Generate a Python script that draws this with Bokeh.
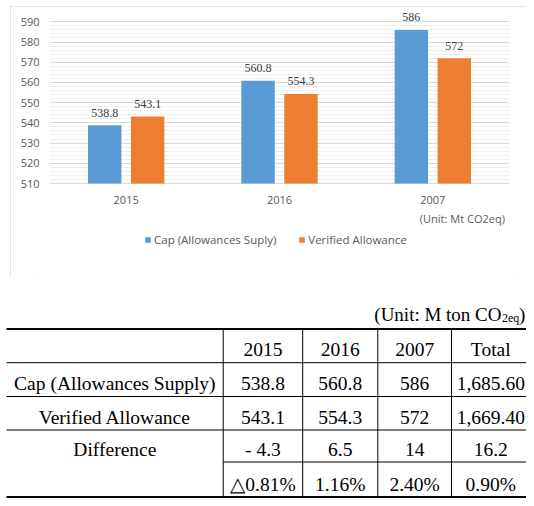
from bokeh.plotting import figure
from bokeh.models import (ColumnDataSource, FactorRange, Range1d, LabelSet, Label,
                          Legend, LegendItem, FixedTicker)
from bokeh.transform import dodge
from bokeh.embed import file_html
from bokeh.resources import INLINE
from bokeh.core.properties import value

# ---------------- data ----------------
years = ["2015", "2016", "2007"]
cap_supply = [538.8, 560.8, 586.0]
verified = [543.1, 554.3, 572.0]
series_names = ["Cap (Allowances Suply)", "Verified Allowance"]
y_ticks = [510, 520, 530, 540, 550, 560, 570, 580, 590]
y_minor_ticks = [512, 514, 516, 518, 522, 524, 526, 528, 532, 534, 536, 538,
                 542, 544, 546, 548, 552, 554, 556, 558, 562, 564, 566, 568,
                 572, 574, 576, 578, 582, 584, 586, 588]
chart_unit = "(Unit: Mt CO2eq)"

table_unit_main = "(Unit: M ton CO"
table_unit_sub = "2eq"
table_unit_end = ")"
table_header = ["", "2015", "2016", "2007", "Total"]
row_cap = ["Cap (Allowances Supply)", "538.8", "560.8", "586", "1,685.60"]
row_verified = ["Verified Allowance", "543.1", "554.3", "572", "1,669.40"]
row_diff = ["Difference", "- 4.3", "6.5", "14", "16.2"]
row_pct = ["", "\u25b30.81%", "1.16%", "2.40%", "0.90%"]
table_rows = [table_header, row_cap, row_verified, row_diff, row_pct]

# ---------------- style ----------------
BLUE = "#5B9BD5"
ORANGE = "#ED7D31"
GRAY_TXT = "#595959"
SANS = "Open Sans"
SERIF = "Liberation Serif"

# ---------------- chart ----------------
src = ColumnDataSource(dict(
    year=years, cap=cap_supply, ver=verified,
    cap_lbl=[f"{v:g}" for v in cap_supply],
    ver_lbl=[f"{v:g}" for v in verified],
))

px_per_unit = 2.0215
frame_top_px, frame_bottom_px = 8, 277        # frame edges in picture pixels
base_px, top_tick_px = 183, 21.3               # where 510 and 590 sit
y_top = y_ticks[-1] + (top_tick_px - frame_top_px) / px_per_unit
y_bot = y_ticks[0] - (frame_bottom_px - base_px) / px_per_unit
pad = 10 / 153.3

p = figure(x_range=FactorRange(*years, range_padding=pad, range_padding_units="absolute"),
           y_range=Range1d(y_bot, y_top),
           width=515, height=271, margin=(6, 0, 0, 10),
           min_border_left=29, min_border_right=6,
           min_border_top=2, min_border_bottom=0,
           output_backend="svg", toolbar_location=None)
p.styles = {"outline": "1px solid #d9d9d9", "outline-offset": "-1px"}
p.outline_line_color = None

off = 0.14
bw = 0.218
r1 = p.vbar(x=dodge("year", -off, range=p.x_range), top="cap", bottom=y_ticks[0],
            width=bw, source=src, fill_color=BLUE, line_color=None)
r2 = p.vbar(x=dodge("year", off, range=p.x_range), top="ver", bottom=y_ticks[0],
            width=bw, source=src, fill_color=ORANGE, line_color=None)

for xs, col in ((dodge("year", -off, range=p.x_range), "cap"),
                (dodge("year", off, range=p.x_range), "ver")):
    p.add_layout(LabelSet(x=xs, y=col, text=col + "_lbl", source=src,
                          text_align="center", text_baseline="alphabetic",
                          y_offset=8.5, text_font=SANS, text_font_size="12px",
                          text_color="#404040"))

ticker = FixedTicker(ticks=y_ticks, minor_ticks=y_minor_ticks)
p.yaxis.ticker = ticker
p.ygrid.ticker = ticker
p.yaxis.axis_line_color = None
p.yaxis.major_tick_line_color = None
p.yaxis.minor_tick_line_color = None
p.yaxis.major_tick_out = 0
p.yaxis.major_tick_in = 0
p.yaxis.minor_tick_out = 0
p.yaxis.minor_tick_in = 0
p.yaxis.major_label_standoff = 0
p.yaxis.major_label_text_font = SANS
p.yaxis.major_label_text_font_size = "11px"
p.yaxis.major_label_text_color = GRAY_TXT

p.xaxis.fixed_location = y_ticks[0]
p.xaxis.axis_line_color = None
p.xaxis.major_tick_line_color = None
p.xaxis.minor_tick_line_color = None
p.xaxis.major_tick_out = 0
p.xaxis.major_tick_in = 0
p.xaxis.major_label_standoff = 12
p.xaxis.major_label_text_font = SANS
p.xaxis.major_label_text_font_size = "11px"
p.xaxis.major_label_text_color = GRAY_TXT

p.xgrid.grid_line_color = None
p.ygrid.grid_line_color = "#d9d9d9"
p.ygrid.minor_grid_line_color = "#efefef"
p.ygrid.cross_bounds = (0, len(years))

p.add_layout(Label(x=len(years) - 0.5, y=y_ticks[0], x_offset=-13, y_offset=-35,
                   text=chart_unit, text_align="left", text_baseline="middle",
                   text_font=SANS, text_font_size="11px", text_color=GRAY_TXT))

legend = Legend(items=[LegendItem(label=series_names[0], renderers=[r1]),
                       LegendItem(label=series_names[1], renderers=[r2])],
                orientation="horizontal", location=(105, 30), padding=0, margin=0,
                spacing=22, label_standoff=3, glyph_width=7, glyph_height=7,
                border_line_color=None, background_fill_alpha=0,
                label_text_font=SANS, label_text_font_size="11.5px",
                label_text_color=GRAY_TXT)
p.add_layout(legend)

# ---------------- table ----------------
col_x = [6, 222.7, 302.2, 377.3, 451, 529.5]
row_y = [332, 365.7, 399.5, 433, 465, 500]

t = figure(width=526, height=221, x_range=Range1d(0, 526), y_range=Range1d(501.5, 280.5),
           x_axis_type=None, y_axis_type=None,
           min_border_left=0, min_border_right=0, min_border_top=0, min_border_bottom=0,
           output_backend="svg", toolbar_location=None)
t.outline_line_color = None
t.grid.visible = False

# thick rules
t.segment(x0=[col_x[0], col_x[0]], x1=[col_x[-1], col_x[-1]],
          y0=[row_y[0], row_y[-1]], y1=[row_y[0], row_y[-1]],
          line_color="black", line_width=2.2)
# thin horizontal rules
hx0 = [col_x[0], col_x[0], col_x[0], col_x[1]]
hy = [row_y[1], row_y[2], row_y[3], row_y[4]]
t.segment(x0=hx0, x1=[col_x[-1]] * 4, y0=hy, y1=hy, line_color="black", line_width=1)
# vertical rules
vx = col_x[1:5]
t.segment(x0=vx, x1=vx, y0=[row_y[0]] * 4, y1=[row_y[-1]] * 4,
          line_color="black", line_width=1)

tx, ty, tt = [], [], []
for ri, row in enumerate(table_rows):
    for ci, cell in enumerate(row):
        if cell == "":
            continue
        tx.append((col_x[ci] + col_x[ci + 1]) / 2)
        ty.append(row_y[ri + 1] - 13)
        tt.append(cell)
t.text(x=tx, y=ty, text=tt, text_font=value(SERIF), text_font_size="19.5px",
       text_align="center", text_baseline="alphabetic", text_color="black")

t.text(x=[501], y=[317], text=[table_unit_main], text_font=value(SERIF),
       text_font_size="19px", text_align="right", text_baseline="alphabetic",
       text_color="black")
t.text(x=[501.5], y=[320.5], text=[table_unit_sub], text_font=value(SERIF),
       text_font_size="12px", text_align="left", text_baseline="alphabetic",
       text_color="black")
t.text(x=[518.5], y=[317], text=[table_unit_end], text_font=value(SERIF),
       text_font_size="19px", text_align="left", text_baseline="alphabetic",
       text_color="black")

open("out.html", "w").write(file_html([p, t], INLINE))
